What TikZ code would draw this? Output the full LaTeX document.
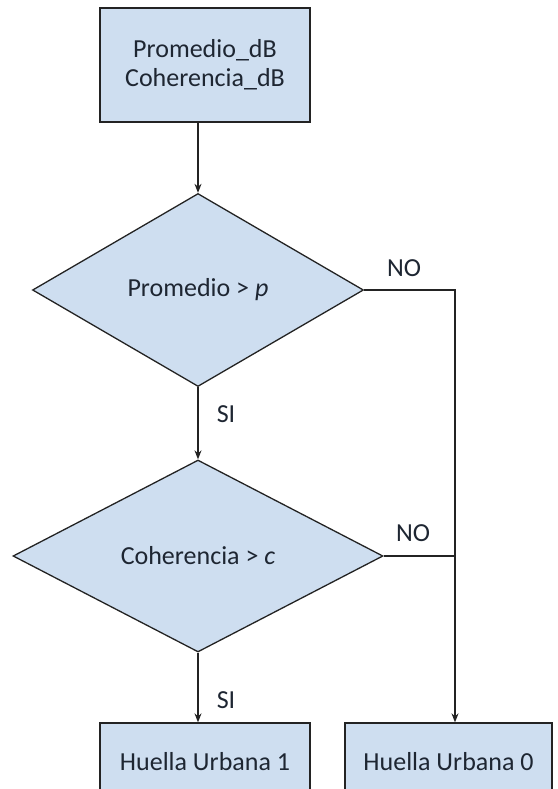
\documentclass[tikz,border=0pt]{standalone}
\usepackage{fontspec}
\setmainfont{Carlito}
\usetikzlibrary{shapes.geometric,arrows.meta}
\definecolor{boxfill}{RGB}{206,222,240}
\definecolor{lineclr}{RGB}{35,35,35}
\definecolor{txt}{RGB}{30,38,50}
\begin{document}
\begin{tikzpicture}[x=1pt,y=-1pt,
  every node/.style={font=\fontsize{26}{29}\selectfont, text=txt},
  box/.style={draw=lineclr, fill=boxfill, line width=1.3pt, rectangle, inner sep=0pt, align=center},
  decision/.style={draw=lineclr, fill=boxfill, line width=1.3pt, diamond, inner sep=0pt, aspect=1.7},
  conn/.style={draw=lineclr, line width=1.3pt},
  arr/.style={conn, -{Stealth[length=9pt,width=7pt]}},
  lbl/.style={inner sep=0pt}]
\useasboundingbox (0,0) rectangle (557,789);
\clip (0,0) rectangle (557,789);
\node[box, minimum width=210pt, minimum height=114pt] (top) at (205,65) {Promedio\_dB\\Coherencia\_dB};
\node[decision, minimum width=331pt, minimum height=193pt] (d1) at (198,290) {Promedio > \textit{p}};
\node[decision, minimum width=370pt, minimum height=192pt] (d2) at (198,556) {Coherencia > \textit{c}};
\node[box, minimum width=210pt, minimum height=78pt] (hu1) at (205,762) {Huella Urbana 1};
\node[box, minimum width=207pt, minimum height=78pt] (hu0) at (448.5,762) {Huella Urbana 0};
\coordinate (j) at (455,0);
\draw[arr] (top.south -| d1.north) -- (d1.north);
\draw[arr] (d1.south) -- (d2.north);
\draw[arr] (d2.south) -- (d2.south |- hu1.north);
\draw[arr] (d1.east) -- (d1.east -| j) -- (j |- hu0.north);
\draw[conn] (d2.east) -- (d2.east -| j);
\node[lbl] (no1) at (404,268) {NO};
\node[lbl] (no2) at (413,533) {NO};
\node[lbl] (si1) at (226,414) {SI};
\node[lbl] (si2) at (226,700) {SI};
\end{tikzpicture}
\end{document}
